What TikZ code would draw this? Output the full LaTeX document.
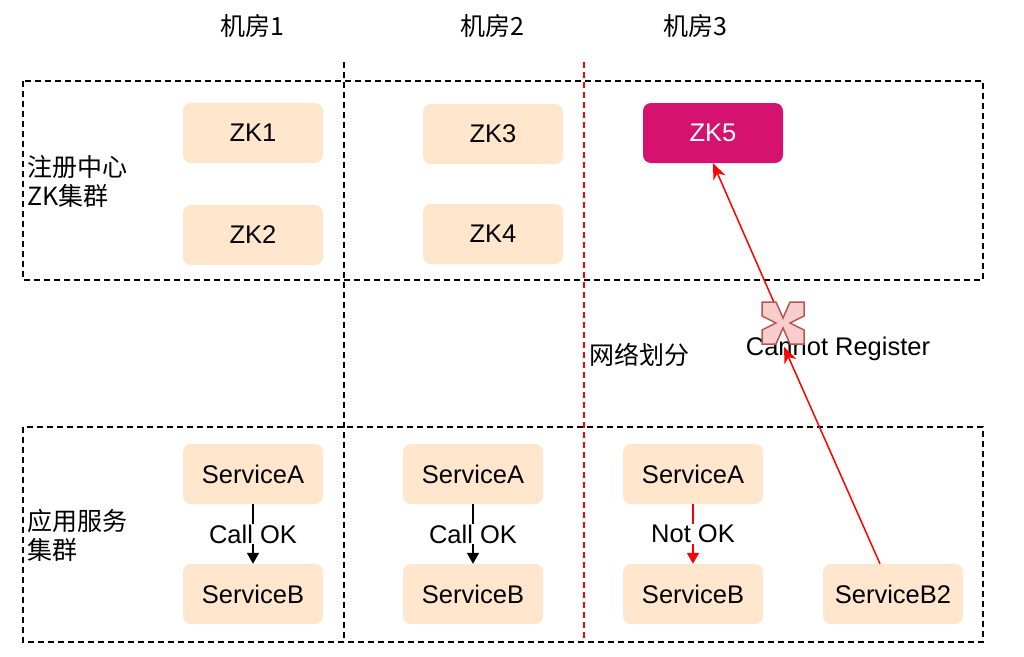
\documentclass[tikz,border=0pt]{standalone}
\usepackage{fontspec}
\setmainfont{Liberation Sans}
\newfontfamily\cjk{Noto Sans CJK SC}
\usetikzlibrary{arrows.meta,calc}
\definecolor{boxfill}{HTML}{FFE6CC}
\definecolor{zkmag}{HTML}{D61270}
\definecolor{xfill}{HTML}{F8CECC}
\definecolor{xdraw}{HTML}{B85450}
\begin{document}
\begin{tikzpicture}[x=1pt,y=-1pt,
  every node/.style={font=\fontsize{25.5}{29}\selectfont},
  cjktext/.style={font=\fontsize{25}{29}\selectfont\cjk},
  box/.style={rectangle, rounded corners=8pt, fill=boxfill, minimum width=140pt, minimum height=60pt, inner sep=0pt},
  region/.style={line width=1.6pt, dash pattern=on 6pt off 4pt},
  callline/.style={line width=1.5pt, -{Triangle[length=11pt,width=12pt]}},
  lbl/.style={fill=white, inner sep=1pt},
  redarrow/.style={red, line width=1.5pt, -{Stealth[length=16pt,width=13pt,inset=5pt]}}]
\useasboundingbox (0,0) rectangle (1024,656);
% regions
\draw[region] (23,81) rectangle (983,280);
\draw[region] (23,427) rectangle (983,642);
\draw[region] (344,62) -- (344,642);
\draw[region, red, line width=1.4pt] (584,62) -- (584,642);
% headers
\node[cjktext] (t1) at (252,26) {机房1};
\node[cjktext] (t2) at (492,26) {机房2};
\node[cjktext] (t3) at (695,26) {机房3};
\node[cjktext, anchor=west, align=left] (lz) at (24,181) {注册中心\\ZK集群};
\node[cjktext, anchor=west, align=left] (ls) at (24,535) {应用服务\\集群};
\node[cjktext, anchor=west] (net) at (586,355) {网络划分};
% ZK nodes
\node[box] (zk1) at (253,133) {ZK1};
\node[box] (zk2) at (253,235) {ZK2};
\node[box] (zk3) at (493,134) {ZK3};
\node[box] (zk4) at (493,234) {ZK4};
\node[box, fill=zkmag, text=white] (zk5) at (713,133) {ZK5};
% services
\node[box] (sa1) at (253,474) {ServiceA};
\node[box] (sb1) at (253,594) {ServiceB};
\node[box] (sa2) at (473,474) {ServiceA};
\node[box] (sb2) at (473,594) {ServiceB};
\node[box] (sa3) at (693,474) {ServiceA};
\node[box] (sb3) at (693,594) {ServiceB};
\node[box] (sb4) at (893,594) {ServiceB2};
% calls
\draw[callline] (sa1) -- node[lbl] {Call OK} (sb1);
\draw[callline] (sa2) -- node[lbl] {Call OK} (sb2);
\draw[callline, red] (sa3) -- node[lbl, text=black] {Not OK} (sb3);
% cannot register
\node (cr) at (838,349) {Cannot Register};
\coordinate (xc) at (783,323);
\coordinate (xbot) at (784,347);
\draw[redarrow] (xc) -- (zk5.south);
\draw[xdraw, fill=xfill, line width=1.5pt, line join=miter]
  ($(xc)+(-21,-21)$) -- ++(14,0) -- ($(xc)+(0,-5)$) -- ($(xc)+(7,-21)$) -- ++(14,0)
  -- ++(0,14) -- ($(xc)+(7,0)$) -- ($(xc)+(21,7)$) -- ++(0,14)
  -- ++(-14,0) -- ($(xc)+(0,5)$) -- ($(xc)+(-7,21)$) -- ++(-14,0)
  -- ++(0,-14) -- ($(xc)+(-7,0)$) -- ($(xc)+(-21,-7)$) -- cycle;
\draw[redarrow] ($(sb4.north)+(-13,0)$) -- (xbot);
\end{tikzpicture}
\end{document}
